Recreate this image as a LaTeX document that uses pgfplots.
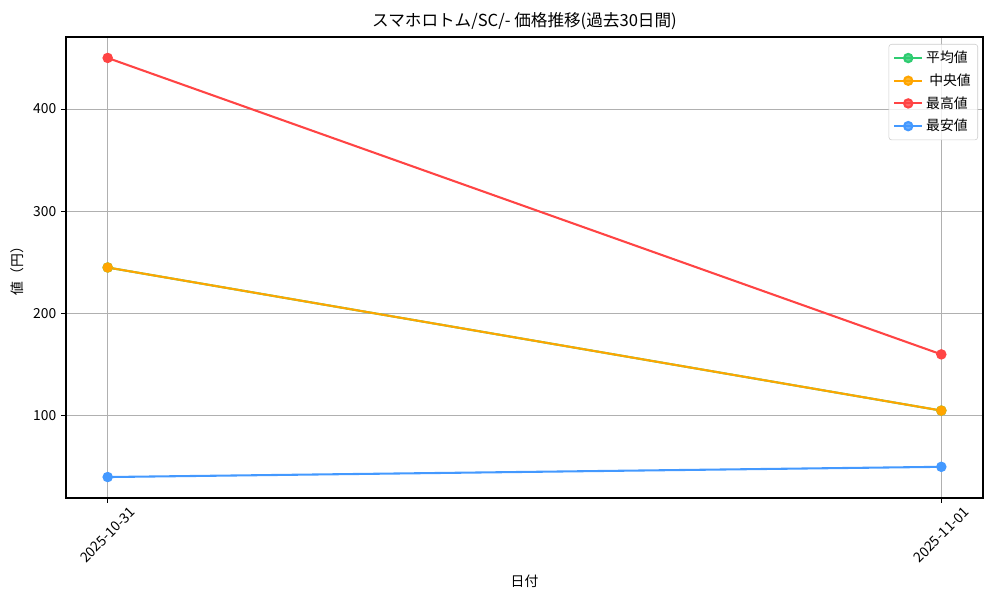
\documentclass[border=0pt]{standalone}
\usepackage{fontspec}
\setmainfont{Noto Sans CJK JP}
\usepackage{pgfplots}
\pgfplotsset{compat=1.18}

\definecolor{cavg}{HTML}{2ECC71}
\definecolor{cmed}{HTML}{FFA500}
\definecolor{cmax}{HTML}{FF4444}
\definecolor{cmin}{HTML}{4499FF}
\definecolor{gridgray}{HTML}{B0B0B0}

\def\px{0.7227pt}

\begin{document}
\begin{tikzpicture}
\begin{axis}[
  scale only axis,
  width=917*\px, height=461*\px,
  xmin=-0.05, xmax=1.05,
  ymin=19.5, ymax=470.5,
  xtick={0,1},
  xticklabels={2025-10-31,2025-11-01},
  ytick={100,200,300,400},
  tick pos=left,
  tick align=outside,
  major tick length=3.5pt,
  grid=major,
  grid style={gridgray, line width=0.8pt},
  axis line style={line width=0.8pt},
  every tick/.style={black, line width=0.8pt},
  /pgf/number format/assume math mode=true,
  tick label style={font=\fontsize{10}{12}\selectfont},
  xticklabel style={yshift=-32*\px, rotate=45, anchor=center},
  title={スマホロトム/SC/- 価格推移(過去30日間)},
  title style={font=\fontsize{12}{14}\selectfont, yshift=-6*\px},
  xlabel={日付},
  ylabel={値（円）},
  label style={font=\fontsize{10}{12}\selectfont},
  legend style={at={(1,1)}, anchor=north east, xshift=-5*\px, yshift=-7*\px,
    draw=gray!40, rounded corners=2pt, fill=white, fill opacity=0.8, text opacity=1,
    font=\fontsize{10}{12}\selectfont, row sep=2.5pt, inner xsep=3pt, inner ysep=3pt},
  legend cell align=left,
  legend image code/.code={%
    \draw[mark repeat=2, mark phase=2] plot coordinates {(0cm,0cm) (0.36cm,0cm) (0.72cm,0cm)};},
  every axis plot/.append style={line width=1.5pt, mark=*, mark size=3pt},
]
\addplot[cavg, mark options={fill=cavg, draw=cavg}] coordinates {(0,245) (1,105)};
\addplot[cmed, mark options={fill=cmed, draw=cmed}] coordinates {(0,245) (1,105)};
\addplot[cmax, mark options={fill=cmax, draw=cmax}] coordinates {(0,450) (1,160)};
\addplot[cmin, mark options={fill=cmin, draw=cmin}] coordinates {(0,40) (1,50)};
\legend{平均値,\ 中央値,最高値,最安値}
\end{axis}
\path[use as bounding box] (-66*\px,-102*\px) rectangle (934*\px,498*\px);
\end{tikzpicture}
\end{document}
